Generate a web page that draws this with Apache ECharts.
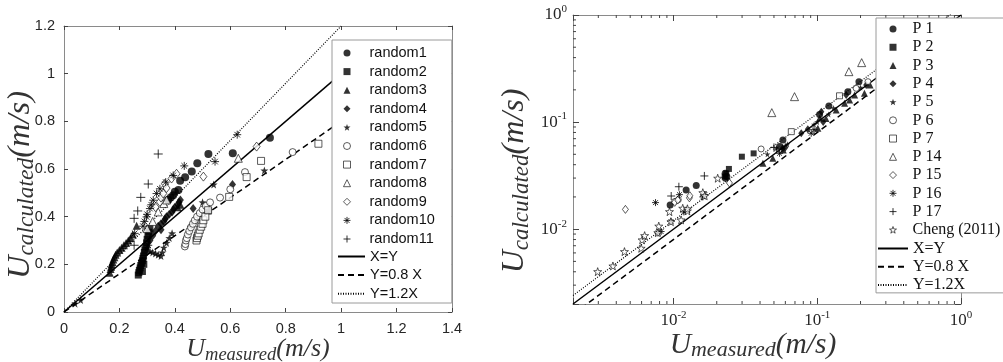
<!DOCTYPE html>
<html><head><meta charset="utf-8">
<script src="https://cdn.jsdelivr.net/npm/echarts@6/dist/echarts.min.js"></script>
<style>html,body{margin:0;padding:0;background:#fff}#c{width:1003px;height:362px}</style>
</head><body><div id="c"></div>
<script>
// ---------- Left chart data (linear axes) ----------
const random1 = [[0.376,0.47],[0.385,0.48],[0.394,0.49],[0.40,0.505],[0.413,0.512],[0.419,0.551],[0.437,0.565],[0.461,0.589],[0.481,0.624],[0.521,0.663],[0.609,0.666],[0.743,0.731]];
const random2 = [[0.268,0.155],[0.27,0.165],[0.272,0.175],[0.275,0.185],[0.277,0.195],[0.28,0.205],[0.283,0.215],[0.285,0.225],[0.287,0.235],[0.29,0.25],[0.292,0.26],[0.295,0.275],[0.298,0.29],[0.3,0.305],[0.303,0.32],[0.306,0.335],[0.31,0.35],[0.288,0.2],[0.283,0.17],[0.52,0.424]];
const random3 = [[0.165,0.165],[0.168,0.18],[0.17,0.19],[0.172,0.2],[0.175,0.21],[0.178,0.22],[0.182,0.23],[0.186,0.24],[0.192,0.25],[0.2,0.26],[0.208,0.27],[0.216,0.28],[0.224,0.29],[0.232,0.3],[0.24,0.31],[0.248,0.325],[0.262,0.362],[0.41,0.44],[0.42,0.45]];
const random4 = [[0.31,0.3],[0.32,0.32],[0.33,0.34],[0.34,0.36],[0.35,0.345],[0.35,0.37],[0.36,0.38],[0.365,0.39],[0.37,0.40],[0.38,0.41],[0.39,0.42],[0.395,0.43],[0.4,0.44],[0.41,0.45],[0.415,0.46],[0.42,0.47],[0.466,0.434],[0.608,0.535]];
const random5 = [[0.04,0.035],[0.06,0.05],[0.3,0.27],[0.31,0.255],[0.32,0.25],[0.33,0.245],[0.34,0.24],[0.35,0.235],[0.355,0.25],[0.36,0.27],[0.37,0.29],[0.38,0.31],[0.39,0.33],[0.5,0.46],[0.54,0.535],[0.723,0.594]];
const random6 = [[0.436,0.275],[0.438,0.285],[0.44,0.3],[0.443,0.31],[0.447,0.325],[0.452,0.34],[0.458,0.355],[0.465,0.37],[0.472,0.385],[0.48,0.4],[0.49,0.415],[0.5,0.43],[0.512,0.445],[0.527,0.46],[0.563,0.48],[0.6,0.515],[0.653,0.587],[0.825,0.671]];
const random7 = [[0.478,0.3],[0.48,0.31],[0.483,0.32],[0.486,0.33],[0.49,0.345],[0.495,0.358],[0.5,0.37],[0.503,0.385],[0.51,0.4],[0.52,0.427],[0.596,0.483],[0.659,0.566],[0.711,0.634],[0.918,0.706]];
const random8 = [[0.3,0.35],[0.32,0.38],[0.34,0.42],[0.36,0.455],[0.37,0.47],[0.629,0.645]];
const random9 = [[0.33,0.44],[0.346,0.462],[0.35,0.48],[0.358,0.497],[0.364,0.538],[0.37,0.52],[0.388,0.56],[0.406,0.58],[0.503,0.568],[0.695,0.694]];
const random10 = [[0.255,0.33],[0.285,0.36],[0.29,0.38],[0.298,0.399],[0.3,0.41],[0.31,0.434],[0.315,0.45],[0.322,0.469],[0.334,0.497],[0.346,0.517],[0.367,0.545],[0.394,0.573],[0.434,0.613],[0.545,0.631],[0.625,0.744],[0.304,0.28]];
const random11 = [[0.253,0.28],[0.253,0.393],[0.266,0.424],[0.277,0.481],[0.304,0.537],[0.34,0.663]];
const leftLineX = [0, 1];
const leftXY = [0, 1];
const leftY08 = [0, 0.8];
const leftY12 = [0, 1.2];

// ---------- Right chart data (log axes) ----------
const P1 = [[0.00948,0.0168],[0.01225,0.0232],[0.0144,0.0255],[0.0229,0.0332],[0.023,0.0299],[0.0235,0.031],[0.055,0.059],[0.0577,0.068],[0.1038,0.118],[0.1205,0.1414],[0.1633,0.1924],[0.195,0.2385]];
const P2 = [[0.0227,0.031],[0.0233,0.0332],[0.0243,0.0365],[0.0299,0.0475],[0.0361,0.051]];
const P3 = [[0.0419,0.0412],[0.0491,0.0459],[0.058,0.055],[0.101,0.0875],[0.104,0.109],[0.115,0.108],[0.1355,0.1297],[0.155,0.15],[0.168,0.161],[0.182,0.179],[0.213,0.186],[0.233,0.222]];
const P4 = [[0.0576,0.0569],[0.06,0.058],[0.0774,0.0786],[0.086,0.0856],[0.11,0.1],[0.1067,0.125],[0.159,0.179],[0.219,0.222]];
const P5 = [[0.045,0.05],[0.062,0.062],[0.095,0.095],[0.1,0.1],[0.12,0.118],[0.13,0.135],[0.2,0.21]];
const P6 = [[0.01017,0.0181],[0.0108,0.0188],[0.0407,0.0561],[0.1866,0.2066],[0.2254,0.2385]];
const P7 = [[0.066,0.0814],[0.1429,0.176]];
const P14 = [[0.0483,0.1225],[0.0695,0.1728],[0.166,0.2958],[0.2037,0.359]];
const P15 = [[0.00463,0.0153],[0.0102,0.0178],[0.0107,0.0187],[0.0129,0.0196],[0.013,0.0205],[0.0245,0.027]];
const P16 = [[0.0075,0.0177],[0.0078,0.0092],[0.0082,0.0095],[0.0096,0.0118],[0.011,0.021],[0.0118,0.0145],[0.016,0.02],[0.0165,0.021],[0.052,0.056],[0.0547,0.0511],[0.0908,0.0786],[0.095,0.085]];
const P17 = [[0.00964,0.0204],[0.0109,0.0249],[0.0164,0.0314],[0.05,0.058]];
const Cheng = [[0.00297,0.00401],[0.00379,0.00453],[0.00456,0.00617],[0.00596,0.00663],[0.00605,0.00794],[0.0063,0.0087],[0.00778,0.00927],[0.0079,0.01067],[0.00938,0.01457],[0.0096,0.01174],[0.0113,0.0122],[0.0116,0.01567],[0.0125,0.0148],[0.0125,0.0155],[0.016,0.0219],[0.0165,0.0205],[0.0203,0.0299]];
const rightLineX = [0.002, 1];
const rightXY = [0.002, 1];
const rightY08 = [0.0016, 0.8];
const rightY12 = [0.0024, 1.2];

// ticks
const leftXTicks = [0, 0.2, 0.4, 0.6, 0.8, 1, 1.2, 1.4];
const leftYTicks = [0, 0.2, 0.4, 0.6, 0.8, 1, 1.2];
const logMajorTicks = [0.01, 0.1, 1];
const logMinorTicks = [0.003,0.004,0.005,0.006,0.007,0.008,0.009,0.02,0.03,0.04,0.05,0.06,0.07,0.08,0.09,0.2,0.3,0.4,0.5,0.6,0.7,0.8,0.9];

// ---------- styling ----------
const STAR = 'path://M0,-1L0.235,-0.324L0.951,-0.309L0.38,0.124L0.588,0.809L0,0.4L-0.588,0.809L-0.38,0.124L-0.951,-0.309L-0.235,-0.324Z';
const AST = 'path://M0,-1L0,1M-1,0L1,0M-0.7,-0.7L0.7,0.7M-0.7,0.7L0.7,-0.7';
const PLUS = 'path://M0,-1L0,1M-1,0L1,0';
const FILL = {color:'#000', borderWidth:0};
const OPEN = {color:'#fff', borderColor:'#000', borderWidth:0.8};
const STROKE = {color:'rgba(0,0,0,0)', borderColor:'#000', borderWidth:1};
const AXC = '#8a8a8a', LBC = '#262626';

function pair(a, b){ return a.map((v,i)=>[v, b[i]]); }
function sc(name, data, sym, size, st, xi, yi){
  return {type:'scatter', name, data, symbol:sym, symbolSize:size, itemStyle:st,
    xAxisIndex:xi, yAxisIndex:yi, silent:true, z:3};
}
function ln(name, data, type, w, xi, yi){
  return {type:'line', name, data, showSymbol:false, symbol:'none', clip:true,
    lineStyle:{color:'#000', width:w, type:type}, itemStyle:{color:'#000'},
    xAxisIndex:xi, yAxisIndex:yi, silent:true, z:2};
}
const TF = 'Liberation Serif', TC = '#333';
function titleRich(big, sub, endPad){
  return {
    u:{fontFamily:TF, fontStyle:'italic', fontSize:big, lineHeight:big+4, color:TC},
    s:{fontFamily:TF, fontStyle:'italic', fontSize:sub, lineHeight:sub, verticalAlign:'bottom', color:TC},
    p:{fontFamily:TF, fontStyle:'italic', fontSize:big, lineHeight:big+4, color:TC, padding:[0,endPad,0,0]}
  };
}
function titleText(sub){ return '{u|U}{s|' + sub + '}{p|(m/s)}'; }

function linAxis(pos, gi, min, max, showLabel, extra){
  return Object.assign({type:'value', gridIndex:gi, position:pos, min, max, interval:0.2,
    nameMoveOverlap:false,
    axisLine:{show:true, onZero:false, lineStyle:{color:AXC, width:1}},
    axisTick:{show:true, inside:true, length:4, lineStyle:{color:'#444'}},
    axisLabel:{show:showLabel, fontFamily:'Liberation Sans', fontSize:14.5, color:LBC, margin:9},
    splitLine:{show:false}}, extra||{});
}
function logLabel(v){
  const e = Math.round(Math.log10(v));
  if (Math.abs(Math.log10(v) - e) > 1e-6) return '';
  return '{b|10}{s|' + e + '}';
}
const logRich = {
  b:{fontFamily:'Liberation Serif', fontSize:17, lineHeight:22, color:LBC},
  s:{fontFamily:'Liberation Serif', fontSize:11, lineHeight:10, verticalAlign:'top', color:LBC}
};
function logAxis(pos, gi, showLabel, extra){
  return Object.assign({type:'log', logBase:10, gridIndex:gi, position:pos, min:0.002, max:1,
    nameMoveOverlap:false,
    axisLine:{show:true, onZero:false, lineStyle:{color:AXC, width:1}},
    axisTick:{show:true, inside:true, length:6, lineStyle:{color:'#444'}},
    axisLabel:{show:showLabel, formatter:logLabel, rich:logRich, margin:6},
    splitLine:{show:false}}, extra||{});
}
function minorRender(isX){
  return function(params, api){
    const v = api.value(isX ? 0 : 1);
    const a = isX ? api.coord([v, 0.002]) : api.coord([0.002, v]);
    const b = isX ? api.coord([v, 1]) : api.coord([1, v]);
    const L = 3, st = {stroke:'#444', lineWidth:1};
    const ch = isX ? [
      {type:'line', shape:{x1:a[0],y1:a[1],x2:a[0],y2:a[1]-L}, style:st},
      {type:'line', shape:{x1:b[0],y1:b[1],x2:b[0],y2:b[1]+L}, style:st}
    ] : [
      {type:'line', shape:{x1:a[0],y1:a[1],x2:a[0]+L,y2:a[1]}, style:st},
      {type:'line', shape:{x1:b[0],y1:b[1],x2:b[0]-L,y2:b[1]}, style:st}
    ];
    return {type:'group', children:ch};
  };
}

const leftMarkerNames = ['random1','random2','random3','random4','random5','random6','random7','random8','random9','random10','random11'];
const rightMarkerNames = ['P 1','P 2','P 3','P 4','P 5','P 6','P 7','P 14','P 15','P 16','P 17','Cheng (2011)'];
const lineNames = ['X=Y','Y=0.8 X','Y=1.2X'];
const markerIcons = ['circle','rect','triangle','diamond',STAR,'circle','rect','triangle','diamond',AST,PLUS,STAR];
const markerStyles = [FILL,FILL,FILL,FILL,FILL,OPEN,OPEN,OPEN,OPEN,STROKE,STROKE,OPEN];
function markerLegendData(names){
  return names.map((n,i)=>({name:n, icon:markerIcons[i], itemStyle:markerStyles[i]}));
}
const HIDE_SYM = {color:'rgba(0,0,0,0)', borderColor:'rgba(0,0,0,0)', borderWidth:0};

const option = {
  animation:false,
  backgroundColor:'#fff',
  grid:[
    {left:64, top:26, width:388, height:286, containLabel:false, outerBoundsMode:'none'},
    {left:573, top:15, width:388, height:289, containLabel:false, outerBoundsMode:'none'}
  ],
  xAxis:[
    linAxis('bottom', 0, 0, 1.4, true, {name:titleText('measured'), nameLocation:'middle', nameGap:22.5, nameTextStyle:{rich:titleRich(26, 18.5, 0)}}),
    linAxis('top', 0, 0, 1.4, false),
    logAxis('bottom', 1, true, {name:titleText('measured'), nameLocation:'middle', nameGap:24, nameTextStyle:{rich:titleRich(29.5, 22, 28)}}),
    logAxis('top', 1, false)
  ],
  yAxis:[
    linAxis('left', 0, 0, 1.2, true, {name:titleText('calculated'), nameLocation:'middle', nameGap:25.5, nameRotate:90, nameTextStyle:{rich:titleRich(32.5, 23.5, 32)}}),
    linAxis('right', 0, 0, 1.2, false),
    logAxis('left', 1, true, {name:titleText('calculated'), nameLocation:'middle', nameGap:40, nameRotate:90, nameTextStyle:{rich:titleRich(32, 23, 43)}}),
    logAxis('right', 1, false)
  ],
  legend:[
    {data:markerLegendData(leftMarkerNames), orient:'vertical', left:332, top:40, selectedMode:false,
     backgroundColor:'#fff', borderColor:'#9a9a9a', borderWidth:1, padding:[5,17,56,11],
     itemWidth:7, itemHeight:7, itemGap:2.6, symbolKeepAspect:true,
     textStyle:{fontFamily:'Liberation Sans', fontSize:14.5, lineHeight:16, color:'#111', padding:[0,0,0,14]}},
    {data:lineNames, orient:'vertical', left:337, top:248.5, selectedMode:false, z:6,
     padding:0, itemWidth:27, itemHeight:7, itemGap:2.6, itemStyle:HIDE_SYM,
     textStyle:{fontFamily:'Liberation Sans', fontSize:14.5, lineHeight:16, color:'#111'}},
    {data:markerLegendData(rightMarkerNames), orient:'vertical', left:876, top:18, selectedMode:false,
     backgroundColor:'#fff', borderColor:'#9a9a9a', borderWidth:1, padding:[3,20,55,13],
     itemWidth:7, itemHeight:7, itemGap:2.26, symbolKeepAspect:true,
     textStyle:{fontFamily:'Liberation Serif', fontSize:16, lineHeight:16, color:'#111', padding:[0,0,0,11]}},
    {data:lineNames, orient:'vertical', left:877, top:240.5, selectedMode:false, z:6,
     padding:0, itemWidth:30, itemHeight:7, itemGap:2.26, itemStyle:HIDE_SYM,
     textStyle:{fontFamily:'Liberation Serif', fontSize:16, lineHeight:16, color:'#111'}}
  ],
  series:[
    ln('X=Y', pair(leftLineX, leftXY), 'solid', 1.5, 0, 0),
    ln('Y=0.8 X', pair(leftLineX, leftY08), [6,4], 1.5, 0, 0),
    ln('Y=1.2X', pair(leftLineX, leftY12), [1,1.5], 1.2, 0, 0),
    sc('random1', random1, 'circle', 8, FILL, 0, 0),
    sc('random2', random2, 'rect', 7, FILL, 0, 0),
    sc('random3', random3, 'triangle', 8, FILL, 0, 0),
    sc('random4', random4, 'diamond', [7,9], FILL, 0, 0),
    sc('random5', random5, STAR, 8, FILL, 0, 0),
    sc('random6', random6, 'circle', 7, OPEN, 0, 0),
    sc('random7', random7, 'rect', 7, OPEN, 0, 0),
    sc('random8', random8, 'triangle', 8, OPEN, 0, 0),
    sc('random9', random9, 'diamond', [7,9], OPEN, 0, 0),
    sc('random10', random10, AST, 8, STROKE, 0, 0),
    sc('random11', random11, PLUS, 9, STROKE, 0, 0),

    ln('X=Y', pair(rightLineX, rightXY), 'solid', 1.5, 2, 2),
    ln('Y=0.8 X', pair(rightLineX, rightY08), [6,4], 1.5, 2, 2),
    ln('Y=1.2X', pair(rightLineX, rightY12), [1,1.5], 1.2, 2, 2),
    sc('P 1', P1, 'circle', 7, FILL, 2, 2),
    sc('P 2', P2, 'rect', 6, FILL, 2, 2),
    sc('P 3', P3, 'triangle', 7, FILL, 2, 2),
    sc('P 4', P4, 'diamond', [6,8], FILL, 2, 2),
    sc('P 5', P5, STAR, 6, FILL, 2, 2),
    sc('P 6', P6, 'circle', 6, OPEN, 2, 2),
    sc('P 7', P7, 'rect', 6, OPEN, 2, 2),
    sc('P 14', P14, 'triangle', 8, OPEN, 2, 2),
    sc('P 15', P15, 'diamond', [6,8], OPEN, 2, 2),
    sc('P 16', P16, AST, 7, STROKE, 2, 2),
    sc('P 17', P17, PLUS, 8, STROKE, 2, 2),
    sc('Cheng (2011)', Cheng, STAR, 8, OPEN, 2, 2),
    {type:'custom', name:'minorX', xAxisIndex:2, yAxisIndex:2, silent:true, z:1,
     data:logMinorTicks.map(v=>[v,0.002]), renderItem:minorRender(true)},
    {type:'custom', name:'minorY', xAxisIndex:2, yAxisIndex:2, silent:true, z:1,
     data:logMinorTicks.map(v=>[0.002,v]), renderItem:minorRender(false)}
  ]
};
const chart = echarts.init(document.getElementById('c'), null, {renderer:'canvas'});
chart.setOption(option);
</script></body></html>
